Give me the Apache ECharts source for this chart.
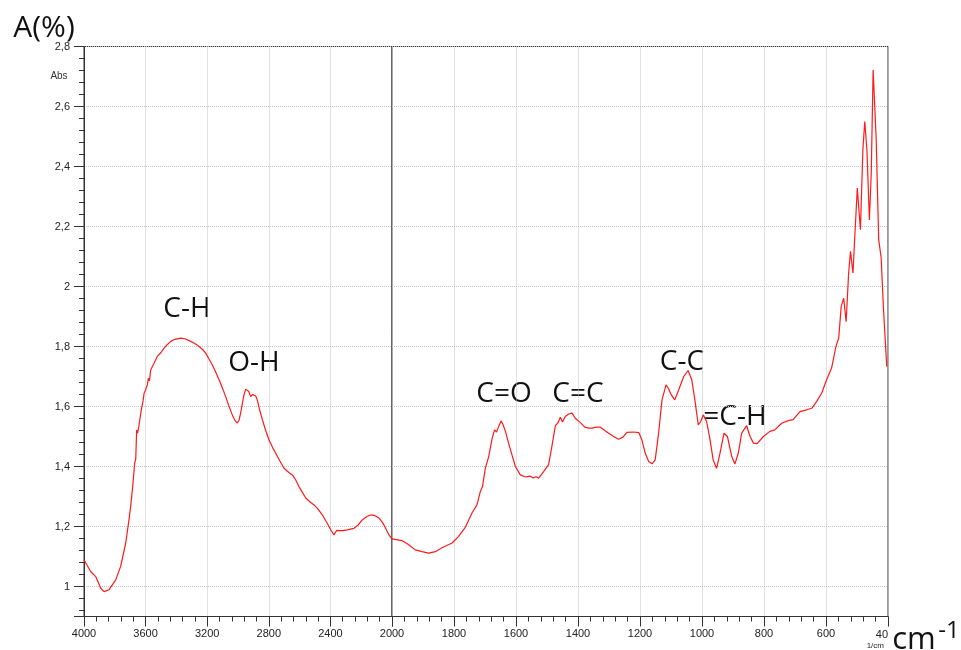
<!DOCTYPE html>
<html>
<head>
<meta charset="utf-8">
<script src="https://cdn.jsdelivr.net/npm/echarts@6/dist/echarts.min.js"></script>
<style>
  html, body { margin: 0; padding: 0; background: #fff; }
  #chart { width: 961px; height: 650px; }
</style>
</head>
<body>
<div id="chart"></div>
<script>
// IR absorbance spectrum, split wavenumber scale (4000-2000 and 2000-400 1/cm)

// High-wavenumber part (1/cm)
const waveLeft = [4000, 3957, 3924, 3892, 3870, 3838, 3794, 3762, 3729, 3708, 3697, 3686, 3680, 3671, 3664, 3658,
  3652, 3645, 3635, 3628, 3616, 3610, 3600, 3589, 3582, 3575, 3567, 3557, 3545, 3524, 3500, 3481, 3460, 3437, 3410, 3372,
  3340, 3307, 3280, 3253, 3230, 3210, 3190, 3167, 3145, 3123, 3100, 3080, 3060, 3037, 3018, 3004, 2993, 2983,
  2970, 2961, 2950, 2940, 2930, 2918, 2905, 2896, 2885, 2875, 2860, 2842, 2820, 2799, 2775, 2755, 2730, 2701,
  2670, 2647, 2625, 2604, 2580, 2560, 2530, 2506, 2480, 2453, 2425, 2398, 2377, 2368, 2359, 2352, 2340, 2320,
  2290, 2247, 2220, 2193, 2160, 2134, 2110, 2084, 2060, 2041, 2020, 2000];
const absLeft = [1.089, 1.050, 1.033, 0.995, 0.983, 0.989, 1.022, 1.067, 1.145, 1.222, 1.267, 1.322, 1.356, 1.411, 1.425, 1.522,
  1.511, 1.530, 1.565, 1.589, 1.620, 1.644, 1.655, 1.672, 1.694, 1.685, 1.722, 1.728, 1.744, 1.767, 1.780, 1.794, 1.806, 1.817, 1.824, 1.828,
  1.825, 1.817, 1.810, 1.800, 1.790, 1.778, 1.760, 1.739, 1.715, 1.689, 1.660, 1.633, 1.603, 1.572, 1.552, 1.545, 1.555, 1.578,
  1.615, 1.639, 1.658, 1.661, 1.650, 1.633, 1.640, 1.644, 1.635, 1.622, 1.590, 1.556, 1.520, 1.489, 1.463, 1.444, 1.420, 1.394,
  1.380, 1.372, 1.355, 1.333, 1.312, 1.295, 1.281, 1.272, 1.258, 1.239, 1.215, 1.189, 1.172, 1.180, 1.187, 1.181, 1.186, 1.186,
  1.189, 1.194, 1.205, 1.222, 1.234, 1.239, 1.236, 1.228, 1.212, 1.194, 1.172, 1.159];

// Fingerprint part (1/cm)
const waveRight = [2000, 1968, 1946, 1925, 1903, 1882, 1860, 1839, 1806, 1785, 1763, 1742, 1726, 1715, 1708, 1699,
  1688, 1677, 1669, 1663, 1656, 1648, 1642, 1634, 1624, 1613, 1602, 1586, 1570, 1555, 1545, 1535, 1527, 1511,
  1495, 1486, 1473, 1465, 1457, 1450, 1441, 1430, 1419, 1409, 1393, 1378, 1365, 1355, 1340, 1328, 1301, 1285,
  1269, 1255, 1242, 1220, 1204, 1194, 1183, 1172, 1161, 1151, 1140, 1129, 1116, 1108, 1102, 1088, 1075, 1059,
  1045, 1033, 1023, 1012, 1004, 996, 985, 974, 964, 953, 942, 929, 918, 904, 894, 883, 872, 856, 845, 834,
  822, 802, 781, 765, 743, 722, 706, 684, 662, 646, 630, 614, 598, 582, 576, 568, 559, 551, 543, 535, 527,
  521, 513, 506, 499, 489, 481, 475, 468, 460, 454, 448, 438, 430, 422, 415, 404];
const absRight = [1.159, 1.153, 1.139, 1.122, 1.116, 1.111, 1.116, 1.129, 1.145, 1.167, 1.198, 1.245, 1.272, 1.317, 1.333, 1.394,
  1.433, 1.494, 1.522, 1.515, 1.533, 1.552, 1.540, 1.517, 1.478, 1.439, 1.400, 1.372, 1.365, 1.368, 1.362, 1.366, 1.361, 1.383,
  1.406, 1.456, 1.536, 1.545, 1.564, 1.548, 1.567, 1.575, 1.578, 1.561, 1.547, 1.531, 1.528, 1.528, 1.531, 1.531, 1.511, 1.500,
  1.491, 1.498, 1.514, 1.515, 1.513, 1.489, 1.444, 1.417, 1.409, 1.422, 1.511, 1.622, 1.672, 1.660, 1.644, 1.622, 1.656, 1.700,
  1.720, 1.689, 1.622, 1.539, 1.550, 1.572, 1.550, 1.489, 1.422, 1.394, 1.444, 1.511, 1.500, 1.433, 1.408, 1.444, 1.511, 1.536, 1.500, 1.478,
  1.476, 1.500, 1.517, 1.522, 1.544, 1.553, 1.556, 1.583, 1.589, 1.594, 1.617, 1.644, 1.689, 1.728, 1.733, 1.800, 1.828, 1.933, 1.961, 1.883, 2.045,
  2.117, 2.045, 2.189, 2.328, 2.189, 2.456, 2.550, 2.456, 2.222, 2.378, 2.722, 2.489, 2.156, 2.095, 1.933, 1.733];

// Absorbance axis: range 0.9-2.8, nice step 0.2 (ticks land on 1.0, 1.2, ... 2.8)
const absMin = 0.9;
const absMax = 2.8;
const absSplitNumber = 10;

// Band assignments
const bandLabels = ['C-H', 'O-H', 'C=O', 'C=C', 'C-C', '=C-H'];

const AXIS = '#333';
const GRIDLINE = '#c4c4c4';
const LABEL_FONT = 'Liberation Sans';

const plotTop = 46.5, pxPerAbs = 300;
const plotHeight = (absMax - absMin) * pxPerAbs;
const leftRect = { left: 84, top: plotTop, width: 308, height: plotHeight };
const rightRect = { left: 392, top: plotTop, width: 496, height: plotHeight };

function absLabel(v) {
  const r = Math.round(v * 10);
  if (r % 2 !== 0) return '';
  return (r / 10).toString().replace('.', ',');
}

const dottedSplit = {
  show: true,
  lineStyle: { color: GRIDLINE, type: [1, 1], width: 1 }
};

function pairs(xs, ys) { return xs.map((x, i) => [x, ys[i]]); }

const chart = echarts.init(document.getElementById('chart'), null, { renderer: 'canvas' });

const option = {
  animation: false,
  backgroundColor: '#fff',
  grid: [
    Object.assign({ show: true, borderColor: AXIS, borderWidth: 1 }, leftRect),
    Object.assign({ show: true, borderColor: AXIS, borderWidth: 1 }, rightRect)
  ],
  xAxis: [
    {
      gridIndex: 0, type: 'value', min: 2000, max: 4000, interval: 400, inverse: true,
      axisLine: { show: true, lineStyle: { color: AXIS, width: 1 } },
      axisTick: { show: true, length: 10, lineStyle: { color: AXIS } },
      minorTick: { show: true, splitNumber: 5, length: 5, lineStyle: { color: AXIS } },
      axisLabel: { fontFamily: LABEL_FONT, fontSize: 11, color: '#222', margin: 12, formatter: v => String(v) },
      splitLine: dottedSplit
    },
    {
      gridIndex: 1, type: 'value', min: 400, max: 2000, interval: 200, inverse: true,
      axisLine: { show: true, lineStyle: { color: AXIS, width: 1 } },
      axisTick: { show: true, length: 10, lineStyle: { color: AXIS } },
      minorTick: { show: true, splitNumber: 5, length: 5, lineStyle: { color: AXIS } },
      axisLabel: {
        fontFamily: LABEL_FONT, fontSize: 11, color: '#222', margin: 12,
        alignMinLabel: 'right',
        formatter: v => v === 2000 ? '' : (v === 400 ? '{n|40}\n{u|1/cm}' : String(v)),
        rich: {
          n: { fontFamily: LABEL_FONT, fontSize: 11, color: '#222', align: 'right', lineHeight: 12 },
          u: { fontFamily: LABEL_FONT, fontSize: 8, color: '#222', align: 'right', lineHeight: 10, padding: [0, 4, 0, 0] }
        }
      },
      splitLine: dottedSplit
    }
  ],
  yAxis: [
    {
      gridIndex: 0, type: 'value', min: absMin, max: absMax, splitNumber: absSplitNumber, position: 'left',
      axisLine: { show: true, lineStyle: { color: AXIS, width: 1 } },
      axisTick: { show: true, length: 10, lineStyle: { color: AXIS, width: 1 } },
      minorTick: { show: true, splitNumber: 5, length: 5, lineStyle: { color: AXIS, width: 1 } },
      axisLabel: { fontFamily: LABEL_FONT, fontSize: 11, color: '#222', margin: 14, formatter: absLabel },
      splitLine: dottedSplit
    },
    {
      gridIndex: 1, type: 'value', min: absMin, max: absMax, splitNumber: absSplitNumber,
      axisLine: { show: false }, axisTick: { show: false }, axisLabel: { show: false },
      splitLine: dottedSplit
    }
  ],
  series: [
    {
      type: 'line', xAxisIndex: 0, yAxisIndex: 0, data: pairs(waveLeft, absLeft),
      showSymbol: false, symbol: 'none', smooth: false, clip: true,
      lineStyle: { color: '#ff1a1a', width: 1.2 }
    },
    {
      type: 'line', xAxisIndex: 1, yAxisIndex: 1, data: pairs(waveRight, absRight),
      showSymbol: false, symbol: 'none', smooth: false, clip: true,
      lineStyle: { color: '#ff1a1a', width: 1.2 }
    }
  ],
  graphic: [
    { type: 'text', x: 44, y: 28, style: { text: 'A(%)', font: '30px "Open Sans"', fill: '#111', textAlign: 'center', textVerticalAlign: 'middle' } },
    { type: 'text', x: 59, y: 76.5, style: { text: 'Abs', font: '10px "Liberation Sans"', fill: '#333', textAlign: 'center', textVerticalAlign: 'middle' } },
    { type: 'text', x: 914, y: 640, style: { text: 'cm', font: '31px "Open Sans"', fill: '#111', textAlign: 'center', textVerticalAlign: 'middle' } },
    { type: 'text', x: 949, y: 631, style: { text: '-1', font: '24px "Open Sans"', fill: '#111', textAlign: 'center', textVerticalAlign: 'middle' } },
    { type: 'text', x: 187, y: 309.5, style: { text: bandLabels[0], font: '28px "Open Sans"', fill: '#111', textAlign: 'center', textVerticalAlign: 'middle' } },
    { type: 'text', x: 254, y: 363, style: { text: bandLabels[1], font: '28px "Open Sans"', fill: '#111', textAlign: 'center', textVerticalAlign: 'middle' } },
    { type: 'text', x: 504, y: 394.5, style: { text: bandLabels[2], font: '28px "Open Sans"', fill: '#111', textAlign: 'center', textVerticalAlign: 'middle' } },
    { type: 'text', x: 578, y: 394.5, style: { text: bandLabels[3], font: '28px "Open Sans"', fill: '#111', textAlign: 'center', textVerticalAlign: 'middle' } },
    { type: 'text', x: 682, y: 361.7, style: { text: bandLabels[4], font: '28px "Open Sans"', fill: '#111', textAlign: 'center', textVerticalAlign: 'middle' } },
    { type: 'text', x: 735, y: 416.7, style: { text: bandLabels[5], font: '28px "Open Sans"', fill: '#111', textAlign: 'center', textVerticalAlign: 'middle' } }
  ]
};

chart.setOption(option);
</script>
</body>
</html>
